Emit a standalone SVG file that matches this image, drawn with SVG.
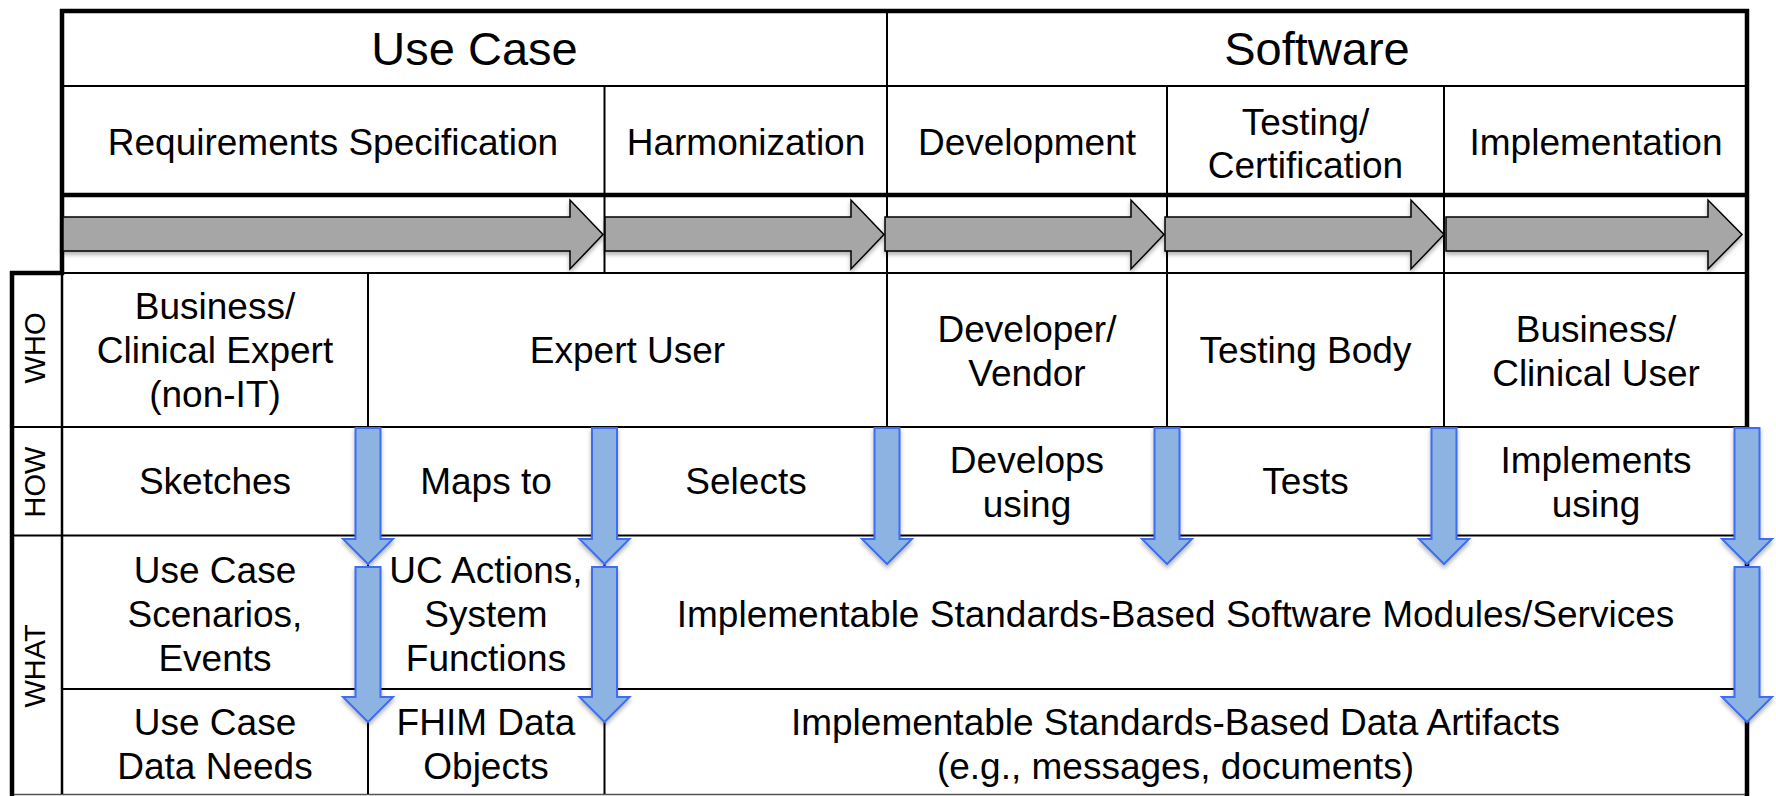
<svg xmlns="http://www.w3.org/2000/svg" width="1776" height="796" viewBox="0 0 1776 796">
<defs>
<style>
.t{font-family:"Liberation Sans",Arial,sans-serif;font-size:37px;fill:#000;text-anchor:middle}
.h{font-size:47px}
.lbl{font-size:29px}
.thin{stroke:#000;stroke-width:2;fill:none}
.thick{stroke:#000;stroke-width:4.5;fill:none}
.garrow{fill:#A6A6A6;stroke:#000;stroke-width:1.5;stroke-linejoin:miter;filter:url(#sh)}
.barrow{fill:#8DB3E2;stroke:#3D6DF2;stroke-width:2;filter:url(#sh)}
</style>
<filter id="sh" x="-30%" y="-20%" width="160%" height="150%">
<feDropShadow dx="0" dy="3" stdDeviation="2" flood-color="#000" flood-opacity="0.3"/>
</filter>
</defs>
<rect width="1776" height="796" fill="#fff"/>

<g id="grid">
<path class="thin" d="M62 86H1747M62 273H1747M12 427H1747M12 535.5H1747M62 689H1747"/>
<path d="M12 794.5H1747" stroke="#555" stroke-width="1.5"/>
<path class="thin" d="M368 273V794M604.5 86V273M604.5 427V794M887 11V427M1167 86V427M1444 86V427"/>
<path d="M62 273V794" stroke="#000" stroke-width="2.5"/>
<path class="thick" d="M60 11H1749M62 9V275M62 195H1747M10 273H64M12 271V796M1747 9V796"/>
</g>

<g id="labels">
<text class="t lbl" transform="translate(45 348) rotate(-90)">WHO</text>
<text class="t lbl" transform="translate(45 482) rotate(-90)">HOW</text>
<text class="t lbl" transform="translate(45 666) rotate(-90)">WHAT</text>
</g>

<g id="header-usecase"><text class="t h" x="474.5" y="65">Use Case</text></g>
<g id="header-software"><text class="t h" x="1317" y="65">Software</text></g>

<g id="phase-requirements"><text class="t" x="333" y="155">Requirements Specification</text></g>
<g id="phase-harmonization"><text class="t" x="746" y="155">Harmonization</text></g>
<g id="phase-development"><text class="t" x="1027" y="155">Development</text></g>
<g id="phase-testing"><text class="t" x="1305.5" y="135">Testing/</text><text class="t" x="1305.5" y="178">Certification</text></g>
<g id="phase-implementation"><text class="t" x="1596" y="155">Implementation</text></g>

<g id="who-business"><text class="t" x="215" y="319">Business/</text><text class="t" x="215" y="363">Clinical Expert</text><text class="t" x="215" y="407">(non-IT)</text></g>
<g id="who-expert"><text class="t" x="627.5" y="363">Expert User</text></g>
<g id="who-developer"><text class="t" x="1027" y="342">Developer/</text><text class="t" x="1027" y="386">Vendor</text></g>
<g id="who-testing"><text class="t" x="1305.5" y="363">Testing Body</text></g>
<g id="who-user"><text class="t" x="1596" y="342">Business/</text><text class="t" x="1596" y="386">Clinical User</text></g>

<g id="how-sketches"><text class="t" x="215" y="494">Sketches</text></g>
<g id="how-maps"><text class="t" x="486" y="494">Maps to</text></g>
<g id="how-selects"><text class="t" x="746" y="494">Selects</text></g>
<g id="how-develops"><text class="t" x="1027" y="473">Develops</text><text class="t" x="1027" y="517">using</text></g>
<g id="how-tests"><text class="t" x="1305.5" y="494">Tests</text></g>
<g id="how-implements"><text class="t" x="1596" y="473">Implements</text><text class="t" x="1596" y="517">using</text></g>

<g id="what-scenarios"><text class="t" x="215" y="583">Use Case</text><text class="t" x="215" y="627">Scenarios,</text><text class="t" x="215" y="671">Events</text></g>
<g id="what-actions"><text class="t" x="486" y="583">UC Actions,</text><text class="t" x="486" y="627">System</text><text class="t" x="486" y="671">Functions</text></g>
<g id="what-modules"><text class="t" x="1175.5" y="627">Implementable Standards-Based Software Modules/Services</text></g>
<g id="what-dataneeds"><text class="t" x="215" y="735">Use Case</text><text class="t" x="215" y="779">Data Needs</text></g>
<g id="what-fhim"><text class="t" x="486" y="735">FHIM Data</text><text class="t" x="486" y="779">Objects</text></g>
<g id="what-artifacts"><text class="t" x="1175.5" y="735">Implementable Standards-Based Data Artifacts</text><text class="t" x="1175.5" y="779">(e.g., messages, documents)</text></g>

<g id="connectors">
<path class="garrow" d="M63 217H570V200L603 234.5L570 269V251H63Z"/>
<path class="garrow" d="M605 217H851V200L884 234.5L851 269V251H605Z"/>
<path class="garrow" d="M885 217H1131V200L1164 234.5L1131 269V251H885Z"/>
<path class="garrow" d="M1165 217H1411V200L1444 234.5L1411 269V251H1165Z"/>
<path class="garrow" d="M1446 217H1708V200L1742 234.5L1708 269V251H1446Z"/>

<path class="barrow" d="M355.5 428H380.5V539H393L368 564L343 539H355.5Z"/>
<path class="barrow" d="M592 428H617V539H629.5L604.5 564L579.5 539H592Z"/>
<path class="barrow" d="M874.5 428H899.5V539H912L887 564L862 539H874.5Z"/>
<path class="barrow" d="M1154.5 428H1179.5V539H1192L1167 564L1142 539H1154.5Z"/>
<path class="barrow" d="M1431.5 428H1456.5V539H1469L1444 564L1419 539H1431.5Z"/>
<path class="barrow" d="M1734.5 428H1759.5V539H1772L1747 564L1722 539H1734.5Z"/>

<path class="barrow" d="M355.5 567H380.5V697H393L368 722L343 697H355.5Z"/>
<path class="barrow" d="M592 567H617V697H629.5L604.5 722L579.5 697H592Z"/>
<path class="barrow" d="M1734.5 567H1759.5V697H1772L1747 722L1722 697H1734.5Z"/>
</g>
</svg>
